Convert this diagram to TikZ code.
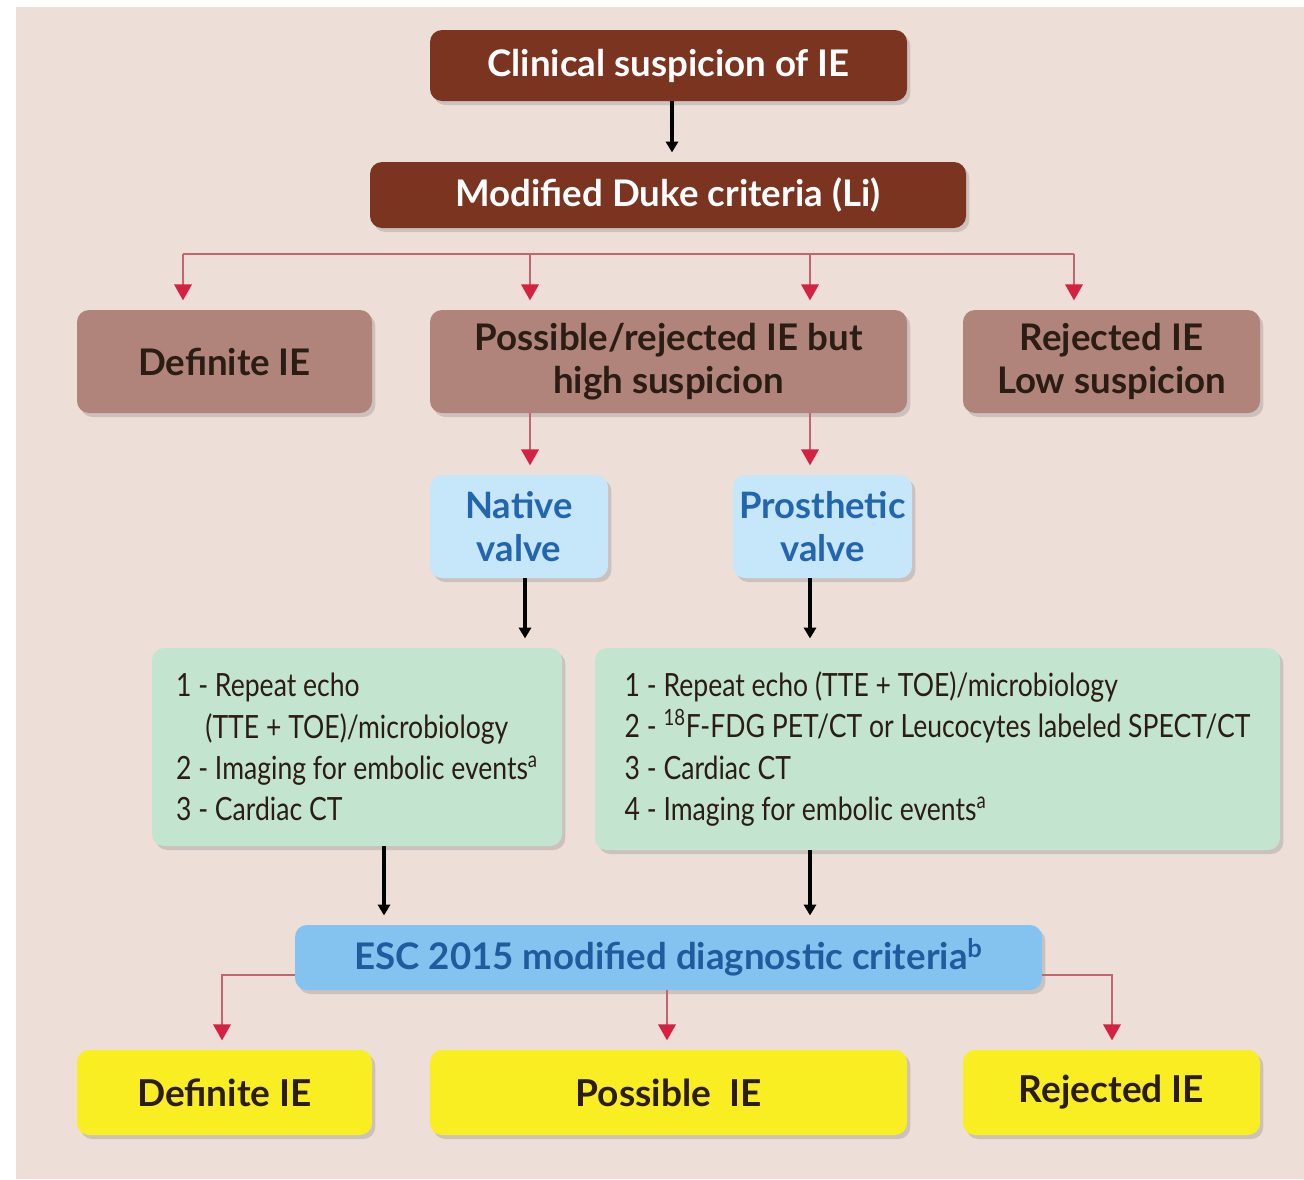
\documentclass[tikz,border=0pt]{standalone}
\usepackage{fontspec}
\setmainfont{Lato}
\newfontfamily\listfont[FakeStretch=0.83]{Lato}
\usetikzlibrary{arrows.meta,shadows}

\definecolor{pagebg}{HTML}{EDDED8}
\definecolor{darkbrown}{HTML}{7A3420}
\definecolor{taupe}{HTML}{B0847A}
\definecolor{paleblue}{HTML}{C5E7F9}
\definecolor{valvetext}{HTML}{2466AE}
\definecolor{palegreen}{HTML}{C3E5CF}
\definecolor{escblue}{HTML}{84C3EF}
\definecolor{esctext}{HTML}{1F5C9E}
\definecolor{lemon}{HTML}{F8EE22}
\definecolor{arrowred}{HTML}{D42240}
\definecolor{linered}{HTML}{C4646E}
\definecolor{inkdark}{HTML}{2B1C14}

\tikzset{
  box/.style={rounded corners=9pt, inner sep=0pt, align=center,
    drop shadow={opacity=0.3, shadow xshift=2.5pt, shadow yshift=-3pt}},
  headbox/.style={box, fill=darkbrown, text=white,
    font=\bfseries\fontsize{27.5}{32}\selectfont},
  outcomebox/.style={box, fill=taupe, text=inkdark,
    font=\bfseries\fontsize{27.5}{32}\selectfont},
  valvebox/.style={box, fill=paleblue, text=valvetext,
    font=\bfseries\fontsize{27.3}{32}\selectfont},
  listbox/.style={box, fill=palegreen, text=inkdark, align=left,
    font=\listfont\fontsize{24}{31}\selectfont},
  escbox/.style={box, fill=escblue, text=esctext,
    font=\bfseries\fontsize{27.5}{32}\selectfont},
  finalbox/.style={box, fill=lemon, text=inkdark,
    font=\bfseries\fontsize{27.8}{32}\selectfont},
  redline/.style={linered, line width=1.8pt},
  redarrow/.style={redline, -{Triangle[length=12pt, width=13pt, color=arrowred]},
    shorten >=7pt},
  blackarrow/.style={black, line width=3pt, -{Triangle[length=8pt, width=9pt]},
    shorten >=7pt}
}

\begin{document}
\begin{tikzpicture}[x=0.75pt, y=-0.75pt]
  \useasboundingbox (0,0) rectangle (1304,1179);
  \fill[white] (0,0) rectangle (1304,1179);
  \fill[pagebg] (16,7) rectangle (1304,1179);

  % top of the chart
  \node[headbox, minimum width=357.75pt, minimum height=53.25pt] (clin) at (668.5,65.5) {Clinical suspicion of IE};
  \node[headbox, minimum width=447pt, minimum height=49.5pt] (duke) at (668,195) {Modified Duke criteria (Li)};

  % first outcome row
  \node[outcomebox, minimum width=221.25pt, minimum height=77.25pt] (defA) at (224.5,361.5) {Definite IE};
  \node[outcomebox, minimum width=357.75pt, minimum height=77.25pt] (possA) at (668.5,361.5) {Possible/rejected IE but\\high suspicion};
  \node[outcomebox, minimum width=222.75pt, minimum height=77.25pt] (rejA) at (1111.5,361.5) {Rejected IE\\Low suspicion};

  % valve type
  \node[valvebox, minimum width=133.5pt, minimum height=77.25pt] (native) at (519,526.5) {Native\\valve};
  \node[valvebox, minimum width=134.25pt, minimum height=77.25pt] (prost) at (822.5,526.5) {Prosthetic\\valve};

  % work-up lists
  \node[listbox, minimum width=307.5pt, minimum height=148.5pt] (listN) at (357,747)
    {1 - Repeat echo\\\hspace*{22pt}(TTE + TOE)/microbiology\\2 - Imaging for embolic events\textsuperscript{a}\\3 - Cardiac CT};
  \node[listbox, minimum width=513.75pt, minimum height=151.5pt] (listP) at (937.5,749)
    {1 - Repeat echo (TTE + TOE)/microbiology\\2 - \textsuperscript{18}F-FDG PET/CT or Leucocytes labeled SPECT/CT\\3 - Cardiac CT\\4 - Imaging for embolic events\textsuperscript{a}};

  % ESC criteria and final outcomes
  \node[escbox, minimum width=560.25pt, minimum height=48.75pt] (esc) at (668.5,957.5) {ESC 2015 modified diagnostic criteria\textsuperscript{b}};
  \node[finalbox, minimum width=221.25pt, minimum height=63.75pt] (defB) at (224.5,1092.5) {Definite IE};
  \node[finalbox, minimum width=357.75pt, minimum height=63.75pt] (possB) at (668.5,1092.5) {Possible\ \ IE};
  \node[finalbox, minimum width=222.75pt, minimum height=63.75pt] (rejB) at (1111.5,1092.5) {Rejected IE};

  % columns of the connectors
  \coordinate (c1) at (183,254);
  \coordinate (c2) at (530,254);
  \coordinate (c3) at (810,254);
  \coordinate (c4) at (1074,254);
  \coordinate (cn) at (384,0);
  \coordinate (el) at (222,975);
  \coordinate (er) at (1112,975);

  \draw[blackarrow] (clin.south -| 672,0) -- (duke.north -| 672,0);
  \draw[redline] (c1) -- (c4);
  \foreach \c/\b in {c1/defA, c2/possA, c3/possA, c4/rejA}
    \draw[redarrow] (\c) -- (\c |- \b.north);
  \draw[redarrow] (possA.south -| c2) -- (native.north -| c2);
  \draw[redarrow] (possA.south -| c3) -- (prost.north -| c3);
  \draw[blackarrow] (native.south -| 525,0) -- (listN.north -| 525,0);
  \draw[blackarrow] (prost.south -| c3) -- (listP.north -| c3);
  \draw[blackarrow] (listN.south -| cn) -- (esc.north -| cn);
  \draw[blackarrow] (listP.south -| c3) -- (esc.north -| c3);
  \draw[redarrow] (esc.west |- el) -- (el) -- (defB.north -| el);
  \draw[redarrow] (esc.south -| 667,0) -- (possB.north -| 667,0);
  \draw[redarrow] (esc.east |- er) -- (er) -- (rejB.north -| er);
\end{tikzpicture}
\end{document}
